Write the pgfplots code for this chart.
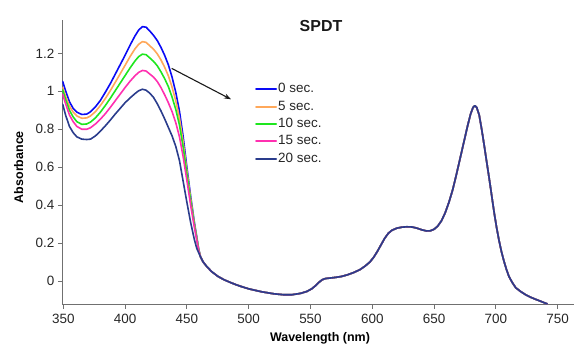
\documentclass[border=0pt]{standalone}
\usepackage{fontspec}
\setmainfont{Liberation Sans}
\usepackage{pgfplots}
\pgfplotsset{compat=1.18}
\usepackage{pgfplotstable}
\usetikzlibrary{arrows.meta}

\definecolor{cA}{HTML}{0A0AF5}
\definecolor{cB}{HTML}{FFA85A}
\definecolor{cC}{HTML}{1EE61E}
\definecolor{cD}{HTML}{FF30B0}
\definecolor{cE}{HTML}{2A3C8C}
\definecolor{axgray}{HTML}{707070}

\pgfplotstableread{
wl c0 c5 c10 c15 c20
349.5 1.052 1.020 1.008 0.985 0.932
352 1.000 0.972 0.955 0.932 0.872
355 0.945 0.922 0.900 0.875 0.815
358 0.910 0.890 0.865 0.840 0.782
361 0.890 0.870 0.840 0.815 0.760
365 0.878 0.858 0.826 0.800 0.748
369 0.880 0.860 0.828 0.800 0.746
372 0.892 0.870 0.838 0.808 0.748
376 0.918 0.893 0.860 0.828 0.765
380 0.952 0.925 0.890 0.853 0.790
384 0.995 0.962 0.925 0.882 0.818
388 1.040 1.003 0.963 0.915 0.848
392 1.090 1.047 1.003 0.950 0.880
396 1.140 1.092 1.043 0.985 0.910
400 1.190 1.137 1.083 1.020 0.940
404 1.243 1.183 1.123 1.053 0.965
408 1.292 1.224 1.160 1.082 0.988
411 1.323 1.248 1.183 1.100 1.003
414 1.341 1.262 1.196 1.110 1.011
417 1.338 1.258 1.193 1.107 1.006
420 1.318 1.240 1.176 1.091 0.990
423 1.295 1.222 1.158 1.075 0.968
426 1.268 1.198 1.135 1.052 0.935
429 1.232 1.166 1.103 1.020 0.897
432 1.190 1.127 1.067 0.982 0.855
435 1.140 1.082 1.025 0.940 0.810
438 1.075 1.022 0.970 0.893 0.765
441 0.995 0.950 0.905 0.835 0.710
444 0.895 0.858 0.822 0.760 0.635
447 0.760 0.732 0.705 0.655 0.525
450 0.600 0.582 0.565 0.530 0.415
453 0.450 0.438 0.425 0.402 0.310
456 0.312 0.305 0.298 0.285 0.220
458 0.232 0.228 0.224 0.216 0.172
459.5 0.170 0.168 0.166 0.162 0.150
461 0.128 0.128 0.128 0.128 0.128
463 0.102 0.102 0.102 0.102 0.102
466 0.077 0.077 0.077 0.077 0.077
470 0.050 0.050 0.050 0.050 0.050
475 0.025 0.025 0.025 0.025 0.025
480 0.007 0.007 0.007 0.007 0.007
485 -0.007 -0.007 -0.007 -0.007 -0.007
490 -0.020 -0.020 -0.020 -0.020 -0.020
495 -0.031 -0.031 -0.031 -0.031 -0.031
500 -0.041 -0.041 -0.041 -0.041 -0.041
510 -0.056 -0.056 -0.056 -0.056 -0.056
520 -0.067 -0.067 -0.067 -0.067 -0.067
528 -0.072 -0.072 -0.072 -0.072 -0.072
535 -0.072 -0.072 -0.072 -0.072 -0.072
542 -0.065 -0.065 -0.065 -0.065 -0.065
547 -0.055 -0.055 -0.055 -0.055 -0.055
551 -0.041 -0.041 -0.041 -0.041 -0.041
554 -0.025 -0.025 -0.025 -0.025 -0.025
557 -0.006 -0.006 -0.006 -0.006 -0.006
559.5 0.007 0.007 0.007 0.007 0.007
562 0.013 0.013 0.013 0.013 0.013
566 0.016 0.016 0.016 0.016 0.016
570 0.019 0.019 0.019 0.019 0.019
575 0.024 0.024 0.024 0.024 0.024
580 0.033 0.033 0.033 0.033 0.033
585 0.045 0.045 0.045 0.045 0.045
590 0.060 0.060 0.060 0.060 0.060
594 0.078 0.078 0.078 0.078 0.078
598 0.100 0.100 0.100 0.100 0.100
601 0.124 0.124 0.124 0.124 0.124
604 0.155 0.155 0.155 0.155 0.155
607 0.190 0.190 0.190 0.190 0.190
610 0.225 0.225 0.225 0.225 0.225
613 0.252 0.252 0.252 0.252 0.252
616 0.268 0.268 0.268 0.268 0.268
620 0.279 0.279 0.279 0.279 0.279
624 0.284 0.284 0.284 0.284 0.284
628 0.286 0.286 0.286 0.286 0.286
632 0.285 0.285 0.285 0.285 0.285
636 0.279 0.279 0.279 0.279 0.279
640 0.270 0.270 0.270 0.270 0.270
644 0.264 0.264 0.264 0.264 0.264
647 0.265 0.265 0.265 0.265 0.265
650 0.273 0.273 0.273 0.273 0.273
653 0.290 0.290 0.290 0.290 0.290
656 0.318 0.318 0.318 0.318 0.318
659 0.360 0.360 0.360 0.360 0.360
662 0.415 0.415 0.415 0.415 0.415
665 0.480 0.480 0.480 0.480 0.480
668 0.560 0.560 0.560 0.560 0.560
671 0.645 0.645 0.645 0.645 0.645
674 0.730 0.730 0.730 0.730 0.730
677 0.815 0.815 0.815 0.815 0.815
679.5 0.880 0.880 0.880 0.880 0.880
681.5 0.915 0.915 0.915 0.915 0.915
683 0.924 0.924 0.924 0.924 0.924
684.5 0.915 0.915 0.915 0.915 0.915
686.5 0.875 0.875 0.875 0.875 0.875
688.5 0.800 0.800 0.800 0.800 0.800
690.5 0.717 0.717 0.717 0.717 0.717
692.5 0.630 0.630 0.630 0.630 0.630
694.5 0.545 0.545 0.545 0.545 0.545
696.5 0.455 0.455 0.455 0.455 0.455
698.5 0.365 0.365 0.365 0.365 0.365
700.5 0.285 0.285 0.285 0.285 0.285
702.5 0.215 0.215 0.215 0.215 0.215
704.5 0.155 0.155 0.155 0.155 0.155
706.5 0.105 0.105 0.105 0.105 0.105
708.5 0.062 0.062 0.062 0.062 0.062
710.5 0.025 0.025 0.025 0.025 0.025
713 -0.005 -0.005 -0.005 -0.005 -0.005
716 -0.035 -0.035 -0.035 -0.035 -0.035
720 -0.055 -0.055 -0.055 -0.055 -0.055
724 -0.072 -0.072 -0.072 -0.072 -0.072
728 -0.085 -0.085 -0.085 -0.085 -0.085
732 -0.096 -0.096 -0.096 -0.096 -0.096
736 -0.106 -0.106 -0.106 -0.106 -0.106
739 -0.114 -0.114 -0.114 -0.114 -0.114
741.5 -0.120 -0.120 -0.120 -0.120 -0.120
}\spectra

\begin{document}
\begin{tikzpicture}
\begin{axis}[
  at={(0bp,0bp)}, anchor=south west,
  scale only axis, width=511.7bp, height=284bp,
  xmin=349.2, xmax=763.2, ymin=-0.121, ymax=1.376,
  axis lines=left,
  axis line style={axgray, line width=0.8bp, -},
  tick style={axgray, line width=0.8bp},
  tick align=outside, major tick length=4.5bp,
  xtick={350,400,450,500,550,600,650,700,750},
  ytick={0,0.2,0.4,0.6,0.8,1,1.2},
  /pgf/number format/assume math mode=true,
  tick label style={font=\fontsize{13.5}{16}\selectfont, text=black!85},
  xticklabel style={yshift=-2.5bp},
  xlabel={Wavelength (nm)}, ylabel={Absorbance},
  label style={font=\bfseries\fontsize{12.5}{15}\selectfont},
  xlabel style={at={(axis description cs:0.5036,-0.120)}, anchor=center},
  ylabel style={at={(axis description cs:-0.0852,0.482)}, anchor=center},
  legend style={at={(axis description cs:0.3766,0.783)}, anchor=north west,
    draw=none, fill=none, font=\fontsize{13.5}{16}\selectfont, text=black!85,
    inner sep=0pt, row sep=2.3bp,
    nodes={inner sep=1bp, text height=10bp, text depth=3bp}},
  legend cell align=left,
  legend image code/.code={\draw[#1, line width=2bp] (0bp,0bp) -- (20bp,0bp);},
  every axis plot/.append style={line width=1.6bp, line join=round, line cap=round, mark=none},
]
\addplot[cA] table[x=wl, y=c0] {\spectra};
\addplot[cB] table[x=wl, y=c5] {\spectra};
\addplot[cC] table[x=wl, y=c10] {\spectra};
\addplot[cD] table[x=wl, y=c15] {\spectra};
\addplot[cE] table[x=wl, y=c20] {\spectra};
\legend{0 sec., 5 sec., 10 sec., 15 sec., 20 sec.}
\draw[-{Stealth[length=7bp,width=5bp]}, line width=1.1bp, black!90]
  (axis cs:437.7,1.121) -- (axis cs:485.7,0.958);
\end{axis}
\node[font=\bfseries\fontsize{16}{19}\selectfont, text=black!90] at (258.7bp,278bp) {SPDT};
\pgfresetboundingbox
\useasboundingbox (-62.3bp,-41bp) rectangle (511.7bp,304bp);
\end{tikzpicture}
\end{document}
